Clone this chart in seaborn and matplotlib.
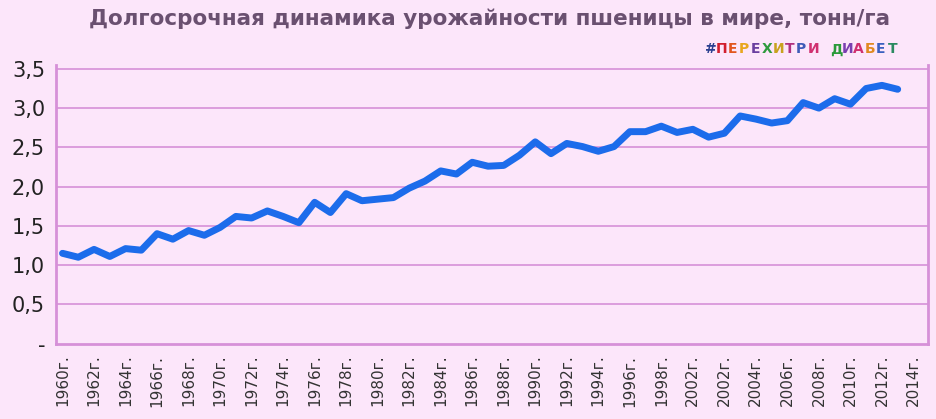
import matplotlib
matplotlib.use("Agg")
import matplotlib.pyplot as plt
import seaborn as sns
import numpy as np
import pandas as pd

years = list(range(1960, 2014))
yields = [1.15, 1.10, 1.20, 1.11, 1.21, 1.19, 1.40, 1.33, 1.44, 1.38,
          1.48, 1.62, 1.60, 1.69, 1.62, 1.54, 1.80, 1.67, 1.91, 1.82,
          1.84, 1.86, 1.98, 2.07, 2.20, 2.16, 2.31, 2.26, 2.27, 2.40,
          2.57, 2.42, 2.55, 2.51, 2.45, 2.51, 2.70, 2.70, 2.77, 2.69,
          2.73, 2.63, 2.68, 2.90, 2.86, 2.81, 2.84, 3.07, 3.00, 3.12,
          3.05, 3.25, 3.29, 3.24]
tick_labels = ["1960г.", "1962г.", "1964г.", "1966г.", "1968г.", "1970г.", "1972г.",
               "1974г.", "1976г.", "1978г.", "1980г.", "1982г.", "1984г.", "1986г.",
               "1988г.", "1990г.", "1992г.", "1994г.", "1996г.", "1998г.", "2002г.",
               "2002г.", "2004г.", "2006г.", "2008г.", "2010г.", "2012г.", "2014г."]
y_ticks = [0, 0.5, 1.0, 1.5, 2.0, 2.5, 3.0, 3.5]
y_labels = ["-", "0,5", "1,0", "1,5", "2,0", "2,5", "3,0", "3,5"]
title = "Долгосрочная динамика урожайности пшеницы в мире, тонн/га"
tag = "#ПЕРЕХИТРИ ДИАБЕТ"

bg = "#FCE6FA"
grid = "#D690D8"
sns.set_theme(style="white")
plt.rcParams['font.family'] = ['DejaVu Sans']

fig = plt.figure(figsize=(9.37, 4.19), dpi=100, facecolor=bg)
ax = fig.add_axes([0.06, 0.18, 0.93, 0.665], facecolor=bg)
df = pd.DataFrame({"idx": np.arange(len(years)), "v": yields})
sns.lineplot(data=df, x="idx", y="v", ax=ax, color="#1C6CEB", linewidth=5,
             solid_joinstyle="round", solid_capstyle="round")

ax.set_xlim(-0.4, 54.9)
ax.set_ylim(0, 3.55)
ax.set_yticks(y_ticks)
ax.set_yticklabels(y_labels, fontsize=15, color="#222222")
for y in y_ticks[1:]:
    ax.axhline(y, color=grid, lw=1.2, zorder=0)
ax.set_xticks(np.arange(0, 55, 2))
ax.set_xticklabels(tick_labels, rotation=90, fontsize=11, color="#333333")
ax.set_xticks(np.arange(0, 55, 1), minor=True)
ax.tick_params(axis="x", which="both", direction="out", length=6, color=grid, width=1.2, pad=2)
ax.tick_params(axis="y", length=0, pad=8)
ax.set_xlabel("")
ax.set_ylabel("")
ax.spines["top"].set_visible(False)
for s in ["left", "right", "bottom"]:
    ax.spines[s].set_color(grid)
    ax.spines[s].set_linewidth(2)

fig.text(0.523, 0.955, title, ha="center", va="center", fontsize=15.5,
         fontweight="bold", color="#6A5070")
colors = ["#2A3F8F", "#D21F2F", "#E2561E", "#E8A61E", "#6A3FA0", "#2F9A3E", "#C8A21E",
          "#B0307F", "#3E5BB8", "#D03070", None, "#2A9A3A", "#7A3FB0", "#D03070",
          "#E08A20", "#3A60C0", "#2A8A60"]
x0 = 0.752
for i, ch in enumerate(tag):
    if colors[i] is None:
        continue
    fig.text(x0 + i * 0.0122, 0.882, ch, fontsize=10, fontweight="heavy",
             color=colors[i], ha="left", va="center")

fig.savefig("out.png", dpi=100, facecolor=bg)
